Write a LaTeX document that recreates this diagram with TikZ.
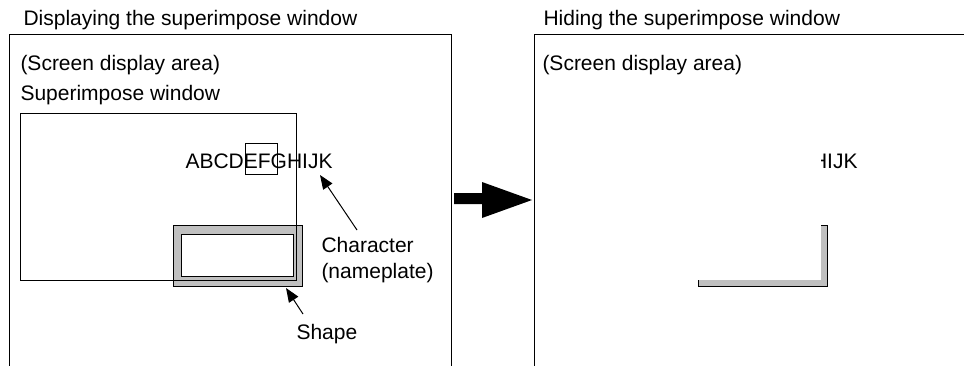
\documentclass[tikz,border=0pt]{standalone}
\usepackage{fontspec}
\setmainfont{Liberation Sans}
\usetikzlibrary{arrows.meta}
\definecolor{shapegray}{HTML}{C0C0C0}
\begin{document}
\begin{tikzpicture}[x=1pt,y=-1pt,line width=1pt,
  txt/.style={inner sep=0pt,anchor=base west,font=\fontsize{21}{26}\selectfont},
  ptr/.style={-{Triangle[length=14pt,width=11pt]},line width=1pt},
  shapeout/.style={draw=black,fill=shapegray},
  shapein/.style={draw=black,fill=white},
  scene/.pic={
    \node[txt] (-abc) at (185,168) {ABCDEFGHIJK};
    \draw[shapeout] (173,225) rectangle (302,286);
    \draw[shapein] (181,234) rectangle (293,276);
  }]
\useasboundingbox (0,0) rectangle (964,365);
% left panel
\draw (9,366) -- (9,34) -- (451,34) -- (451,366);
\node[txt] (t1) at (23,25) {Displaying the superimpose window};
\node[txt] (s1) at (20,70) {(Screen display area)};
\node[txt] (sw) at (20,100) {Superimpose window};
\pic (L) at (0,0) {scene};
\draw (245,143) rectangle (277,174);
\draw (20,113) rectangle (296,280);
\node[txt] (char) at (321,252) {Character};
\node[txt] (name) at (321,278) {(nameplate)};
\node[txt] (shp) at (296,339) {Shape};
\coordinate (ca) at (357,230);
\coordinate (ct) at (320,175);
\draw[ptr] (ca) -- (ct);
\coordinate (sa) at (303,314);
\coordinate (st) at (286,288);
\draw[ptr] (sa) -- (st);
% big arrow
\fill (454,193) -- (482,193) -- (482,182) -- (532,200) -- (482,218) -- (482,204) -- (454,204) -- cycle;
% right panel
\draw (534,366) -- (534,34) -- (965,34);
\node[txt] (t2) at (543,25) {Hiding the superimpose window};
\node[txt] (s2) at (542,70) {(Screen display area)};
\begin{scope}
  \clip (821,34) rectangle (964,365) (534,280) rectangle (964,365);
  \pic (R) at (525,0) {scene};
\end{scope}
\end{tikzpicture}
\end{document}
